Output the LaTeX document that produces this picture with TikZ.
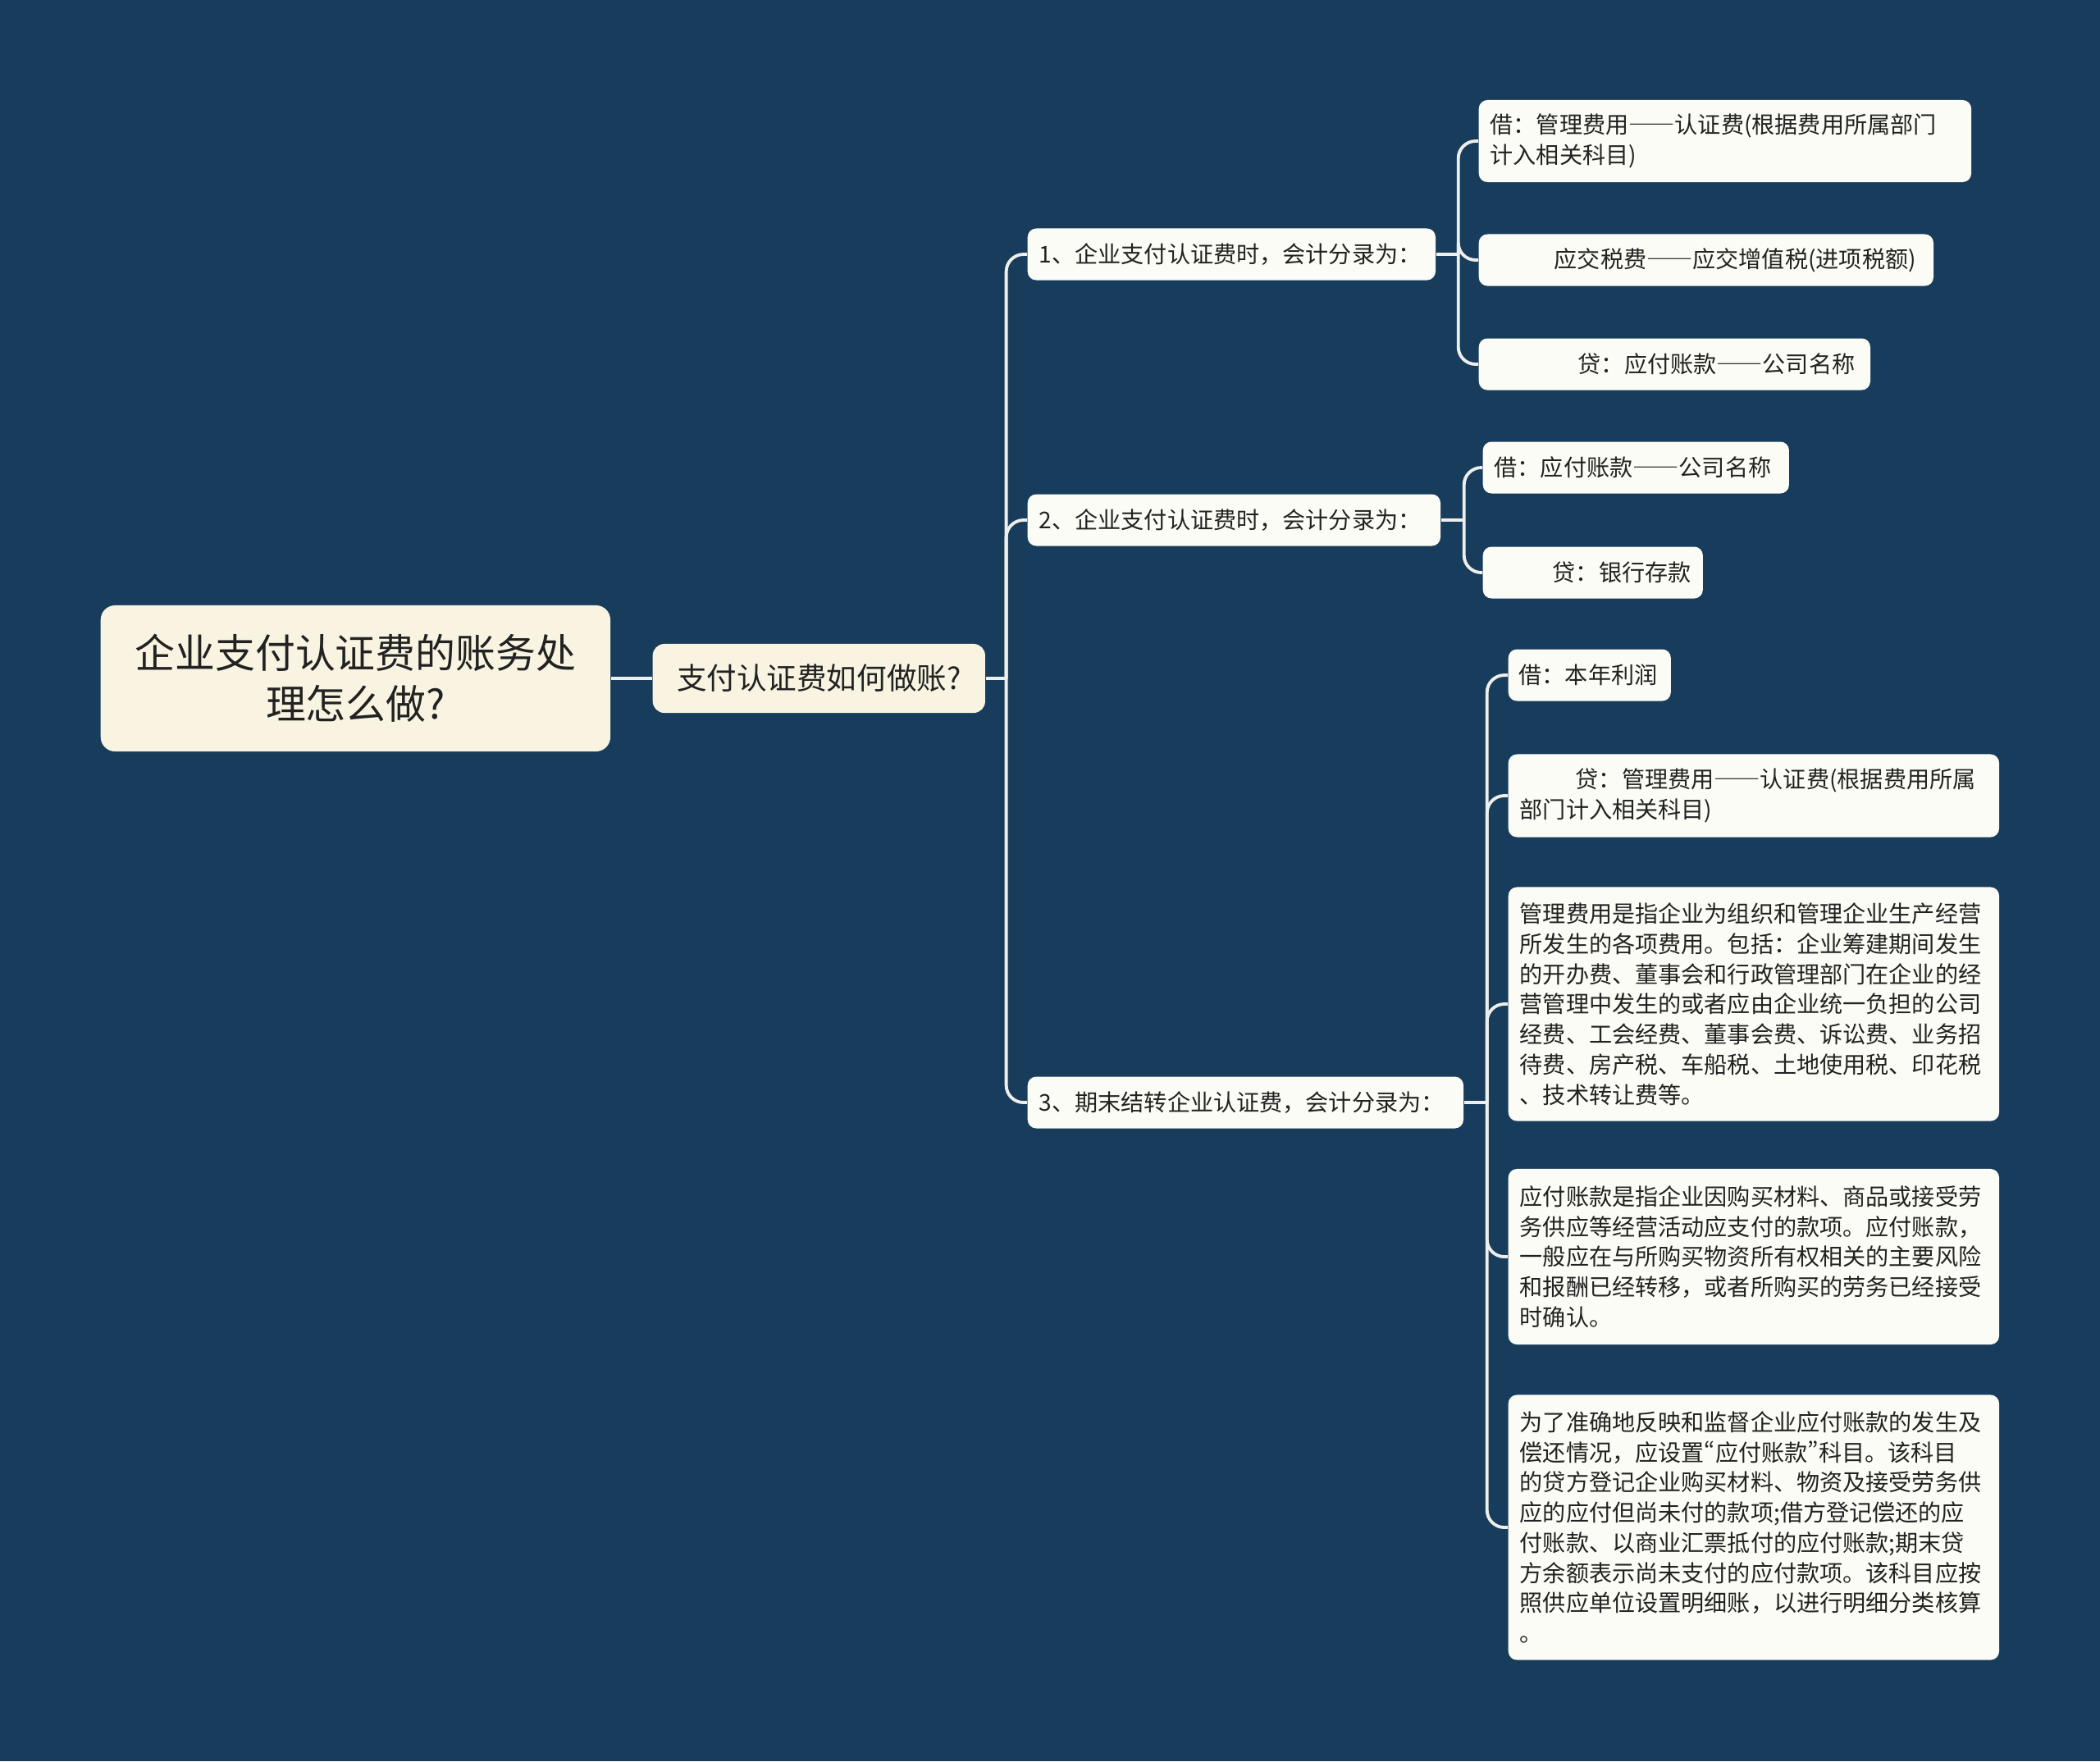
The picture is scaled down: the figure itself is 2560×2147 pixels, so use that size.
\documentclass[tikz,border=0pt]{standalone}
\usepackage{fontspec}
\setmainfont{Noto Sans CJK SC}
\usetikzlibrary{positioning}
\definecolor{Ground}{HTML}{183C5C}
\definecolor{Cream}{HTML}{F8F4E1}
\definecolor{Paper}{HTML}{FCFCF6}
\definecolor{Wire}{HTML}{EEEEEA}
\definecolor{Ink}{HTML}{222222}
\newcommand{\dd}{{\addfontfeature{RawFeature=+fwid}——}}
\newcommand{\narq}[1]{{\addfontfeature{RawFeature=+pwid}#1}}
\tikzset{
  rootbox/.style={rounded corners=5pt, fill=Cream, text=Ink, align=center, minimum width=6.21cm, minimum height=1.78cm, inner sep=0pt, font=\fontsize{13.9}{17.6}\selectfont},
  topicbox/.style={rounded corners=4pt, fill=Cream, text=Ink, align=center, minimum width=4.05cm, minimum height=.84cm, inner sep=0pt, font=\fontsize{10.4}{12}\selectfont},
  stepbox/.style={rounded corners=3pt, fill=Paper, text=Ink, align=left, anchor=west, inner xsep=.14cm, inner ysep=0pt, minimum height=.63cm, font=\fontsize{8}{10.45}\selectfont},
  conn/.style={draw=Wire, line width=1.1pt},
  elbow/.style={conn, rounded corners=6pt}
}

\begin{document}
\begin{tikzpicture}[x=.01cm,y=-.01cm]
\fill[Ground] (0,0) rectangle (2560,2147);

% root and question
\node[rootbox,anchor=west] (root) at (122,827) {企业支付认证费的账务处\\理怎么做?};
\node[topicbox,anchor=west] (ask) at (795,827) {支付认证费如何做账?};

% three steps
\node[stepbox,text width=4.69cm] (s1) at (1252,310) {1、企业支付认证费时，会计分录为：};
\node[stepbox,text width=4.75cm] (s2) at (1252,634) {2、企业支付认证费时，会计分录为：};
\node[stepbox,text width=5.03cm] (s3) at (1252,1344) {3、期末结转企业认证费，会计分录为：};

% entries of step 1
\node[stepbox,text width=5.72cm,minimum height=1cm] (a1) at (1802,172) {借：管理费用\dd 认证费(根据费用所属部门\\计入相关科目)};
\node[stepbox,text width=5.26cm] (a2) at (1802,317) {\hspace*{.78cm}应交税费\dd 应交增值税(进项税额)};
\node[stepbox,text width=4.49cm] (a3) at (1802,444) {\hspace*{1.07cm}贷：应付账款\dd 公司名称};

% entries of step 2
\node[stepbox,text width=3.45cm] (b1) at (1807,570) {借：应付账款\dd 公司名称};
\node[stepbox,text width=2.40cm] (b2) at (1807,698) {\hspace*{.71cm}贷：银行存款};

% entries of step 3
\node[stepbox,text width=1.72cm,inner xsep=.13cm] (d1) at (1838,823) {借：本年利润};
\node[stepbox,text width=5.70cm,minimum height=1.01cm] (d2) at (1838,970) {\hspace*{.68cm}贷：管理费用\dd 认证费(根据费用所属\\部门计入相关科目)};
\node[stepbox,text width=5.70cm,minimum height=2.85cm] (d3) at (1838,1224) {管理费用是指企业为组织和管理企业生产经营\\所发生的各项费用。包括：企业筹建期间发生\\的开办费、董事会和行政管理部门在企业的经\\营管理中发生的或者应由企业统一负担的公司\\经费、工会经费、董事会费、诉讼费、业务招\\待费、房产税、车船税、土地使用税、印花税\\、技术转让费等。};
\node[stepbox,text width=5.70cm,minimum height=2.14cm] (d4) at (1838,1532) {应付账款是指企业因购买材料、商品或接受劳\\务供应等经营活动应支付的款项。应付账款，\\一般应在与所购买物资所有权相关的主要风险\\和报酬已经转移，或者所购买的劳务已经接受\\时确认。};
\node[stepbox,text width=5.70cm,minimum height=3.23cm] (d5) at (1838,1862) {为了准确地反映和监督企业应付账款的发生及\\偿还情况，应设置\narq{“}应付账款\narq{”}科目。该科目\\的贷方登记企业购买材料、物资及接受劳务供\\应的应付但尚未付的款项;借方登记偿还的应\\付账款、以商业汇票抵付的应付账款;期末贷\\方余额表示尚未支付的应付款项。该科目应按\\照供应单位设置明细账，以进行明细分类核算\\。};

% connectors
\draw[conn] (root.east) -- (ask.west);
\draw[conn] (ask.east) -- ++(25,0) coordinate (j0);
\foreach \n in {s1,s2,s3} \draw[elbow] (j0) |- (\n.west);
\draw[conn] (s1.east) -- ++(27,0) coordinate (j1);
\foreach \n in {a1,a2,a3} \draw[elbow] (j1) |- (\n.west);
\draw[conn] (s2.east) -- ++(28,0) coordinate (j2);
\foreach \n in {b1,b2} \draw[elbow] (j2) |- (\n.west);
\draw[conn] (s3.east) -- ++(28,0) coordinate (j3);
\foreach \n in {d1,d2,d3,d4,d5} \draw[elbow] (j3) |- (\n.west);
\end{tikzpicture}
\end{document}
